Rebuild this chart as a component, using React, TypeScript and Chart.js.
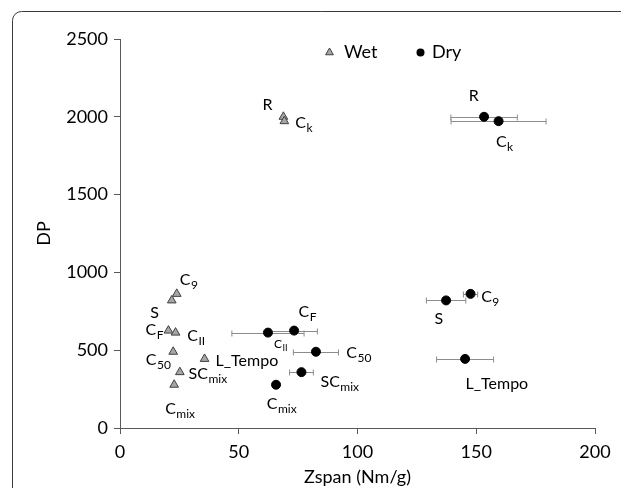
import React, { useEffect, useRef } from 'react';
import { Chart, registerables } from 'chart.js';

Chart.register(...registerables);

// ---- data ----
const names = ['R', 'Ck', 'C9', 'S', 'CF', 'CII', 'C50', 'L_Tempo', 'SCmix', 'Cmix'];
const labelMain = ['R', 'C', 'C', 'S', 'C', 'C', 'C', 'L_Tempo', 'SC', 'C'];
const labelSub = ['', 'k', '9', '', 'F', 'II', '50', '', 'mix', 'mix'];
const dp = [2000, 1972, 862, 820, 626, 613, 490, 444, 359, 278];
const wetZspan = [68.8, 69.2, 23.9, 21.8, 20.4, 23.4, 22.4, 35.6, 25.2, 22.8];
const dryZspan = [153.3, 159.4, 147.6, 137.3, 73.3, 62.3, 82.5, 145.3, 76.4, 65.7];
const dryZspanErr = [14, 20, 3, 8.3, 9.8, 15.2, 9.5, 12, 5, 0];
const xTicks = [0, 50, 100, 150, 200];
const yTicks = [0, 500, 1000, 1500, 2000, 2500];
const seriesNames = ['Wet', 'Dry'];

// ---- label placement (pixel offsets from marker, style only) ----
const wetLabelOffset: number[][] = [
  [-21, -13], [11, 1], [3, -15], [-21.6, 12], [-23, -1], [11.7, 3], [-27.4, 7], [11, 1.5], [8.7, 1.6], [-9, 23.7],
];
const dryLabelOffset: number[][] = [
  [-15.3, -21.7], [-2.7, 20.4], [10.6, 2], [-11.6, 17.6], [4.4, -19], [6, 11.3], [30.4, 0.3], [0.4, 24], [19, 9.4], [-9.3, 18.3],
];
const dryLabelSmall = [false, false, false, false, false, true, false, false, false, false];

const FONT = 'Lato, "Open Sans", sans-serif';
const AXIS_COLOR = '#595959';

function drawLabel(ctx: CanvasRenderingContext2D, x: number, y: number, main: string, sub: string, small: boolean) {
  const mainSize = small ? 12 : 16;
  const subSize = small ? 9 : 12;
  ctx.save();
  ctx.fillStyle = '#000';
  ctx.textAlign = 'left';
  ctx.textBaseline = 'alphabetic';
  ctx.font = `${mainSize}px ${FONT}`;
  const base = y + mainSize * 0.36;
  ctx.fillText(main, x, base);
  const w = ctx.measureText(main).width;
  if (sub) {
    ctx.font = `${subSize}px ${FONT}`;
    ctx.fillText(sub, x + w + 0.5, base + (small ? 3 : 4));
  }
  ctx.restore();
}

const customPlugin = {
  id: 'custom',
  beforeDraw(chart: any) {
    const ctx = chart.ctx as CanvasRenderingContext2D;
    ctx.save();
    ctx.strokeStyle = '#3a3a3a';
    ctx.lineWidth = 1;
    ctx.beginPath();
    (ctx as any).roundRect(12.5, 11.5, 700, 600, 9);
    ctx.stroke();
    ctx.restore();
  },
  beforeDatasetsDraw(chart: any) {
    const ctx = chart.ctx as CanvasRenderingContext2D;
    const xs = chart.scales.x;
    const ys = chart.scales.y;
    ctx.save();
    ctx.strokeStyle = '#8c8c8c';
    ctx.lineWidth = 1;
    dryZspan.forEach((v, i) => {
      const e = dryZspanErr[i];
      if (!e) return;
      const x1 = xs.getPixelForValue(v - e);
      const x2 = xs.getPixelForValue(v + e);
      const y = Math.round(ys.getPixelForValue(dp[i])) + 0.5;
      ctx.beginPath();
      ctx.moveTo(x1, y);
      ctx.lineTo(x2, y);
      ctx.moveTo(x1, y - 3);
      ctx.lineTo(x1, y + 3);
      ctx.moveTo(x2, y - 3);
      ctx.lineTo(x2, y + 3);
      ctx.stroke();
    });
    ctx.restore();
  },
  afterDatasetsDraw(chart: any) {
    const ctx = chart.ctx as CanvasRenderingContext2D;
    const xs = chart.scales.x;
    const ys = chart.scales.y;
    names.forEach((_, i) => {
      const py = ys.getPixelForValue(dp[i]);
      const wx = xs.getPixelForValue(wetZspan[i]);
      drawLabel(ctx, wx + wetLabelOffset[i][0], py + wetLabelOffset[i][1], labelMain[i], labelSub[i], false);
      const dx = xs.getPixelForValue(dryZspan[i]);
      drawLabel(ctx, dx + dryLabelOffset[i][0], py + dryLabelOffset[i][1], labelMain[i], labelSub[i], dryLabelSmall[i]);
    });
    // legend
    ctx.save();
    const ly = 52.5;
    const r = 4.5;
    ctx.beginPath();
    ctx.moveTo(329.5, ly - r);
    ctx.lineTo(329.5 + r * 0.866, ly + r / 2);
    ctx.lineTo(329.5 - r * 0.866, ly + r / 2);
    ctx.closePath();
    ctx.fillStyle = '#a6a6a6';
    ctx.fill();
    ctx.strokeStyle = '#404040';
    ctx.lineWidth = 1;
    ctx.stroke();
    ctx.beginPath();
    ctx.arc(420.5, ly, 4, 0, Math.PI * 2);
    ctx.fillStyle = '#000';
    ctx.fill();
    ctx.font = `18px ${FONT}`;
    ctx.textBaseline = 'middle';
    ctx.textAlign = 'left';
    ctx.fillText(seriesNames[0], 344, ly);
    ctx.fillText(seriesNames[1], 432, ly);
    ctx.restore();
  },
};

export default function App() {
  const ref = useRef<HTMLCanvasElement | null>(null);
  useEffect(() => {
    if (!ref.current) return;
    const tickFont = { family: FONT, size: 18 };
    const chart = new Chart(ref.current, {
      type: 'scatter',
      data: {
        datasets: [
          {
            label: seriesNames[0],
            data: wetZspan.map((x, i) => ({ x, y: dp[i] })),
            pointStyle: 'triangle',
            pointRadius: 5,
            pointHoverRadius: 5,
            backgroundColor: '#a6a6a6',
            borderColor: '#404040',
            borderWidth: 1,
          },
          {
            label: seriesNames[1],
            data: dryZspan.map((x, i) => ({ x, y: dp[i] })),
            pointStyle: 'circle',
            pointRadius: 4.5,
            pointHoverRadius: 4.5,
            backgroundColor: '#000',
            borderColor: '#000',
            borderWidth: 1,
          },
        ],
      },
      options: {
        animation: false,
        responsive: false,
        events: [],
        layout: { padding: { left: 12, top: 39, right: 26, bottom: 0 } },
        plugins: { legend: { display: false }, tooltip: { enabled: false } },
        scales: {
          x: {
            type: 'linear',
            min: 0,
            max: 200,
            afterBuildTicks: (s: any) => {
              s.ticks = xTicks.map((v) => ({ value: v }));
            },
            afterFit: (s: any) => {
              s.height = 60;
            },
            grid: { drawOnChartArea: false, drawTicks: true, tickLength: 6, color: AXIS_COLOR },
            border: { display: true, color: AXIS_COLOR, width: 1 },
            ticks: { font: tickFont, color: '#000', padding: 7, maxRotation: 0, callback: (v: any) => String(v) },
            title: {
              display: true,
              text: 'Zspan (Nm/g)',
              font: tickFont,
              color: '#000',
              padding: { top: 0, bottom: 0 },
            },
          },
          y: {
            type: 'linear',
            min: 0,
            max: 2500,
            afterBuildTicks: (s: any) => {
              s.ticks = yTicks.map((v) => ({ value: v }));
            },
            afterFit: (s: any) => {
              s.width = 108;
            },
            grid: { drawOnChartArea: false, drawTicks: true, tickLength: 6, color: AXIS_COLOR },
            border: { display: true, color: AXIS_COLOR, width: 1 },
            ticks: { font: tickFont, color: '#000', padding: 6, callback: (v: any) => String(v) },
            title: {
              display: true,
              text: 'DP',
              font: tickFont,
              color: '#000',
              padding: { top: 21, bottom: 0 },
            },
          },
        },
      },
      plugins: [customPlugin],
    });
    return () => chart.destroy();
  }, []);

  return (
    <div style={{ position: 'fixed', left: 0, top: 0, width: 621, height: 488, overflow: 'hidden', background: '#fff' }}>
      <canvas ref={ref} width={621} height={488} style={{ display: 'block', width: 621, height: 488 }} />
    </div>
  );
}
